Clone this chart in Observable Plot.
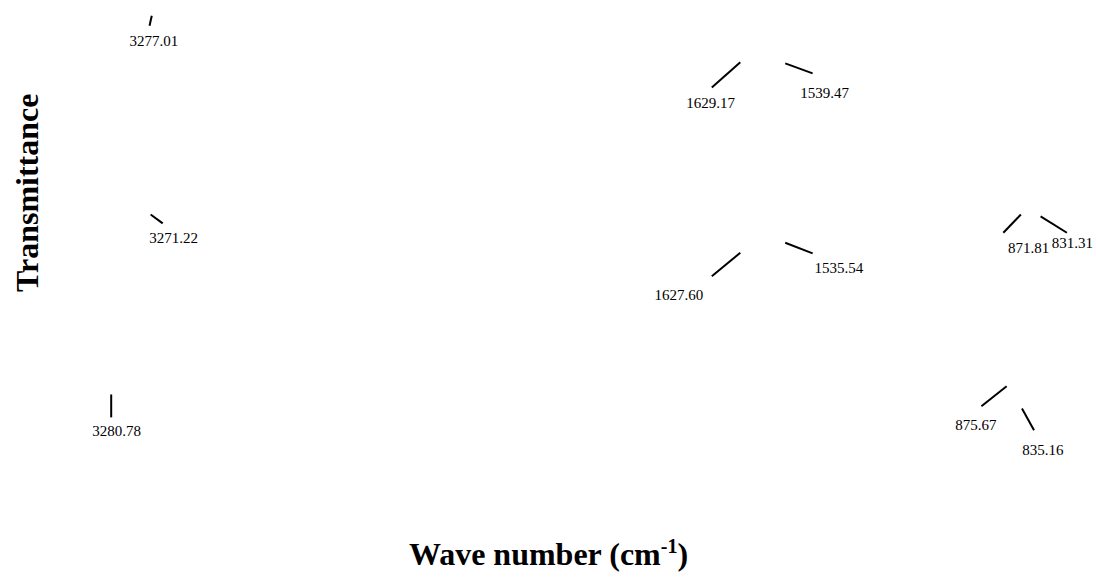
<!DOCTYPE html>
<html>
<head>
<meta charset="utf-8">
<script src="https://cdn.jsdelivr.net/npm/d3@7"></script>
<script src="https://cdn.jsdelivr.net/npm/@observablehq/plot@0.6"></script>
<style>
  html, body { margin: 0; padding: 0; background: #fff; }
  #chart svg { display: block; }
</style>
</head>
<body>
<div id="chart"></div>
<script>
// Peak labels (wave numbers, cm-1)
const peakLabels = ["3277.01","3271.22","3280.78","1629.17","1539.47","1627.60","1535.54","871.81","831.31","875.67","835.16"];
// Label positions (x: relative position along wave-number axis, 0-100; y: relative transmittance, 0-100)
const labelX = [14.0, 15.8, 10.6, 64.8, 75.2, 61.9, 76.5, 93.8, 97.8, 89.0, 95.1];
const labelY = [93.0, 59.5, 26.7, 82.5, 84.2, 49.8, 54.4, 57.8, 58.8, 27.7, 23.6];
// Leader tick segments for each peak
const tickX1 = [13.8, 13.7, 10.1, 64.9, 71.6, 64.9, 71.6, 91.5, 94.9, 89.5, 93.2];
const tickY1 = [97.4, 63.6, 33.0, 85.2, 89.3, 53.1, 58.8, 60.5, 63.3, 31.0, 30.6];
const tickX2 = [13.6, 14.8, 10.1, 67.5, 74.1, 67.5, 74.1, 93.1, 97.3, 91.8, 94.3];
const tickY2 = [95.7, 62.1, 29.1, 89.5, 87.6, 57.1, 57.0, 63.6, 60.5, 34.4, 26.9];
// Axis titles
const xTitle = "Wave number (cm-1)";
const yTitle = "Transmittance";
const titleX = [50.0, 2.5];
const titleY = [5.8, 67.3];

const peaks = peakLabels.map((label, i) => ({
  label, lx: labelX[i], ly: labelY[i],
  x1: tickX1[i], y1: tickY1[i], x2: tickX2[i], y2: tickY2[i]
}));

const serif = "'Liberation Serif', 'Times New Roman', serif";

const chart = Plot.plot({
  width: 1096,
  height: 588,
  margin: 0,
  style: { fontFamily: serif, background: "#fff" },
  x: { domain: [0, 100], axis: null },
  y: { domain: [0, 100], axis: null },
  marks: [
    Plot.link(peaks, { x1: "x1", y1: "y1", x2: "x2", y2: "y2", stroke: "#000", strokeWidth: 2 }),
    Plot.text(peaks, { x: "lx", y: "ly", text: "label", fontSize: 15, fill: "#000" }),
    Plot.text([xTitle], { x: titleX[0], y: titleY[0], text: d => d, fontSize: 32, fontWeight: "bold", fill: "#000", className: "xtitle" }),
    Plot.text([yTitle], { x: titleX[1], y: titleY[1], text: d => d, fontSize: 32, fontWeight: "bold", fill: "#000", rotate: -90 })
  ]
});

// superscript "-1" in the x-axis title
d3.select(chart).selectAll(".xtitle text").each(function () {
  const t = d3.select(this);
  t.text(null);
  t.append("tspan").text("Wave number (cm");
  t.append("tspan").attr("font-size", 20).attr("dy", "-0.6em").text("-1");
  t.append("tspan").attr("dy", "0.4em").text(")");
});

document.getElementById("chart").appendChild(chart);
</script>
</body>
</html>
